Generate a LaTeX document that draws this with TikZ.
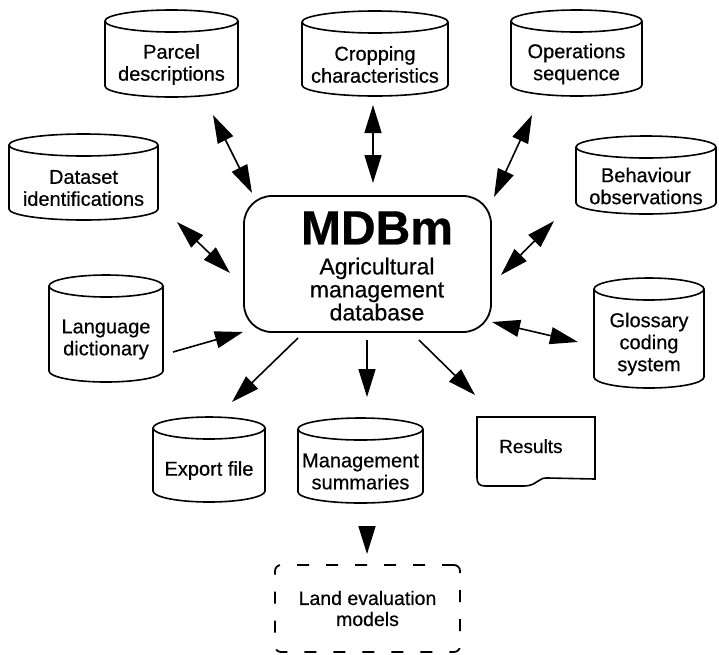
\documentclass[tikz,border=0pt]{standalone}
\usepackage{fontspec}
\setmainfont{Liberation Sans}[FakeBold=0.5]
\usetikzlibrary{arrows.meta}

% database drum: name, left, top, right, bottom, text
\newcommand{\dbcyl}[6]{%
	\draw[cyl] ({(#2+#4)/2},{#3+11}) ellipse[x radius={(#4-#2)/2}, y radius=11];
	\draw[cyl] (#2,{#3+11}) -- (#2,{#5-11}) arc[start angle=180, end angle=0, x radius={(#4-#2)/2}, y radius=11] -- (#4,{#3+11});
	\node[cyltext] (#1) at ({(#2+#4)/2},{(#3+#5)/2+11}) {#6};
}

\begin{document}
\begin{tikzpicture}
		[x=1pt, y=-1pt,
		cyl/.style = {line width=1.6pt},
		cyltext/.style = {align=center, inner sep=0pt, font=\fontsize{20}{22}\selectfont},
		arr/.style = {line width=1.6pt, -{Triangle[length=28pt,width=17pt]}},
		dbl/.style = {line width=1.6pt, {Triangle[length=28pt,width=17pt]}-{Triangle[length=28pt,width=17pt]}},
		hub/.style = {draw, line width=1.8pt, rounded corners=28pt, minimum width=247pt, minimum height=136pt},
		hubtext/.style = {align=center, inner sep=0pt, font=\fontsize{23}{23}\selectfont},
		landbox/.style = {draw, line width=1.8pt, dash pattern=on 12pt off 17pt, rounded corners=6pt, align=center, minimum width=185pt, minimum height=87pt, font=\fontsize{19.5}{21}\selectfont}]
	\useasboundingbox (0,0) rectangle (719,654);
	% centre
	\node[hub] (mdbm) at (367.5,264) {};
	\node[hubtext] (mdbmtext) at (377,266) {{\fontsize{48}{48}\selectfont\bfseries MDBm}\\[7pt]Agricultural\\management\\database};
	% drums
	\dbcyl{parcel}{105}{10}{238}{97}{Parcel\\descriptions}
	\dbcyl{crop}{302}{11}{448}{96}{Cropping\\characteristics}
	\dbcyl{oper}{511}{10}{642}{96}{Operations\\sequence}
	\dbcyl{dataset}{9}{134}{158}{220}{Dataset\\identifications}
	\dbcyl{behav}{576}{136}{716}{214}{Behaviour\\observations}
	\dbcyl{lang}{49}{275}{163}{382}{Language\\dictionary}
	\dbcyl{gloss}{594}{278}{704}{388}{Glossary\\coding\\system}
	\dbcyl{export}{153}{417}{265}{502}{Export file}
	\dbcyl{summ}{298}{418}{423}{503}{Management\\summaries}
	% results sheet
	\node[anchor=base west, inner sep=0pt, font=\fontsize{19}{21}\selectfont] (results) at (499,453) {Results};
	\draw[cyl] (477,417) -- (595,417) -- (595,479) -- (548,478) .. controls (538,477) and (537,486) .. (524,486) -- (485,486) .. controls (479,486) and (477,483) .. (477,478) -- cycle;
	% land evaluation
	\node[landbox] (land) at (367.5,608.5) {Land evaluation\\models};
	% arrow ends
	\coordinate (parcel-a) at (213,115);
	\coordinate (parcel-b) at (252,193);
	\coordinate (crop-a) at (373,105);
	\coordinate (crop-b) at (373,183);
	\coordinate (oper-a) at (532,115);
	\coordinate (oper-b) at (494,197);
	\coordinate (dataset-a) at (177,222);
	\coordinate (dataset-b) at (230,273);
	\coordinate (behav-a) at (554,221);
	\coordinate (behav-b) at (501,275);
	\coordinate (lang-a) at (173,352);
	\coordinate (lang-b) at (243,332);
	\coordinate (gloss-a) at (492,322);
	\coordinate (gloss-b) at (578,342);
	\coordinate (export-a) at (298,338);
	\coordinate (export-b) at (232,402);
	\coordinate (summ-a) at (367,340);
	\coordinate (summ-b) at (367,397);
	\coordinate (results-a) at (419,340);
	\coordinate (results-b) at (475,395);
	\coordinate (land-a) at (367,527);
	\coordinate (land-b) at (367,554);
	\draw[dbl] (parcel-a) -- (parcel-b);
	\draw[dbl] (crop-a) -- (crop-b);
	\draw[dbl] (oper-a) -- (oper-b);
	\draw[dbl] (dataset-a) -- (dataset-b);
	\draw[dbl] (behav-a) -- (behav-b);
	\draw[arr] (lang-a) -- (lang-b);
	\draw[dbl] (gloss-a) -- (gloss-b);
	\draw[arr] (export-a) -- (export-b);
	\draw[arr] (summ-a) -- (summ-b);
	\draw[arr] (results-a) -- (results-b);
	\draw[arr] (land-a) -- (land-b);
\end{tikzpicture}
\end{document}
